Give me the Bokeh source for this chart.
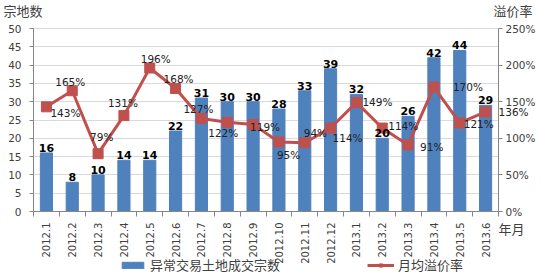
from bokeh.plotting import figure
from bokeh.models import (ColumnDataSource, Range1d, LinearAxis, FixedTicker, Grid,
                          PrintfTickFormatter, Label, Legend, LegendItem)
from bokeh.core.properties import value
from bokeh.embed import file_html
from bokeh.resources import INLINE

months = ["2012.1", "2012.2", "2012.3", "2012.4", "2012.5", "2012.6", "2012.7",
          "2012.8", "2012.9", "2012.10", "2012.11", "2012.12", "2013.1", "2013.2",
          "2013.3", "2013.4", "2013.5", "2013.6"]
counts = [16, 8, 10, 14, 14, 22, 31, 30, 30, 28, 33, 39, 32, 20, 26, 42, 44, 29]
rates = [143, 165, 79, 131, 196, 168, 127, 122, 119, 95, 94, 114, 149, 114, 91, 170, 121, 136]
count_ticks = [0, 5, 10, 15, 20, 25, 30, 35, 40, 45, 50]
rate_ticks = [0, 50, 100, 150, 200, 250]

bar_name = "异常交易土地成交宗数"
line_name = "月均溢价率"
left_title = "宗地数"
right_title = "溢价率"
x_title = "年月"

# label placement (screen px, relative to each marker; left-aligned text)
rate_dx = [4, -17, -8, -16, -9, -12, -18, -19, -3, -2, -1, 2, 6, 6, 12, 19, 4, 13]
rate_dy = [6, -9, -17, -13, -9, -10, -10, 11, 3, 13, -10, 10, 0, -2, 2, 0, 1, 0]

BLUE = "#4F81BD"
RED = "#C0504D"
TXT = "#404040"
AX = "#868686"
FONT = "DejaVu Sans"
CJK = "Noto Sans CJK SC"

W, H = 542, 277
# plot-area placement inside the canvas (pixels)
FL, FR, FT, FB = 33, 498, 28, 211

n = len(months)
idx = list(range(n))
cmax = count_ticks[-1]
rmax = rate_ticks[-1]

# ranges chosen so that the plot area sits at FL..FR, FT..FB on the full canvas
xpx = (FR - FL) / n
x0 = -0.5 - FL / xpx
x1 = n - 0.5 + (W - FR) / xpx
ypx = (FB - FT) / cmax
y0 = -(H - FB) / ypx
y1 = cmax + FT / ypx
k = rmax / cmax

src = ColumnDataSource(dict(
    x=idx, c=counts, r=rates,
    ct=[str(v) for v in counts],
    rt=[f"{v}%" for v in rates],
    dx=rate_dx, dy=rate_dy,
))

p = figure(width=W, height=H, x_range=Range1d(x0, x1), y_range=Range1d(y0, y1),
           output_backend="svg", toolbar_location=None,
           x_axis_location=None, y_axis_location=None,
           min_border=0, outline_line_color=None)
p.extra_y_ranges = {"rate": Range1d(y0 * k, y1 * k)}
p.xgrid.visible = False
p.ygrid.visible = False

# grid
ct = FixedTicker(ticks=count_ticks)
g = Grid(dimension=1, ticker=ct, grid_line_color="#D9D9D9", grid_line_width=1)
if "cross_bounds" in Grid.properties():
    g.cross_bounds = (-0.5, n - 0.5)
p.add_layout(g)

bars = p.vbar(x="x", top="c", width=0.47, source=src, color=BLUE)
ln = p.line(x="x", y="r", source=src, y_range_name="rate", color=RED, line_width=3)
mk = p.scatter(x="x", y="r", source=src, y_range_name="rate", marker="square",
               size=10, color=RED)

p.text(x="x", y="c", text="ct", source=src, text_align="center",
       text_baseline="bottom", y_offset=-1, text_font=value(FONT),
       text_font_style="bold", text_font_size="11px", text_color="black")
p.text(x="x", y="r", text="rt", source=src, y_range_name="rate",
       x_offset="dx", y_offset="dy", text_align="left", text_baseline="middle",
       text_font=value(FONT), text_font_size="10.5px", text_color="#222222")


def style(ax):
    ax.axis_line_color = AX
    ax.major_tick_line_color = AX
    ax.minor_tick_line_color = None
    ax.major_tick_in = 0
    ax.major_tick_out = 4
    ax.major_label_text_font = FONT
    ax.major_label_text_font_size = "10.5px"
    ax.major_label_text_color = TXT


la = LinearAxis(ticker=ct, fixed_location=-0.5, bounds=(0, cmax))
style(la)
la.major_label_standoff = 8
p.add_layout(la, "left")

ra = LinearAxis(y_range_name="rate", ticker=FixedTicker(ticks=rate_ticks),
                formatter=PrintfTickFormatter(format="%d%%"),
                fixed_location=n - 0.5, bounds=(0, rmax))
style(ra)
ra.major_label_standoff = 3
p.add_layout(ra, "right")

xa = LinearAxis(ticker=FixedTicker(ticks=idx, minor_ticks=[i - 0.5 for i in idx] + [n - 0.5]),
                major_label_overrides={i: m for i, m in zip(idx, months)},
                fixed_location=0, bounds=(-0.5, n - 0.5))
style(xa)
xa.major_tick_line_color = None
xa.minor_tick_line_color = AX
xa.minor_tick_in = 0
xa.minor_tick_out = 5
xa.major_label_orientation = 1.5707963267948966
xa.major_label_text_font_size = "10px"
xa.major_label_standoff = 6
p.add_layout(xa, "below")

# axis titles
p.add_layout(Label(x=-0.5, y=cmax, x_offset=-30, y_offset=18, text=left_title,
                   text_font=CJK, text_font_size="13px", text_color=TXT,
                   text_baseline="middle"))
p.add_layout(Label(x=n - 0.5, y=rmax, y_range_name="rate", x_offset=-5, y_offset=18,
                   text=right_title, text_font=CJK, text_font_size="13px",
                   text_color=TXT, text_baseline="middle"))
p.add_layout(Label(x=n - 0.5, y=0, x_offset=0, y_offset=-17, text=x_title,
                   text_font=CJK, text_font_size="13px", text_color=TXT,
                   text_baseline="middle"))

legend = Legend(items=[LegendItem(label=bar_name, renderers=[bars]),
                       LegendItem(label=line_name, renderers=[ln, mk])],
                orientation="horizontal", location=(119, 3),
                border_line_color=None, background_fill_alpha=0,
                label_text_font=CJK, label_text_font_size="13px",
                label_text_color=TXT, glyph_width=27, glyph_height=8,
                spacing=87, padding=0, margin=0, label_standoff=4)
p.add_layout(legend)

open("out.html", "w").write(file_html(p, INLINE))
